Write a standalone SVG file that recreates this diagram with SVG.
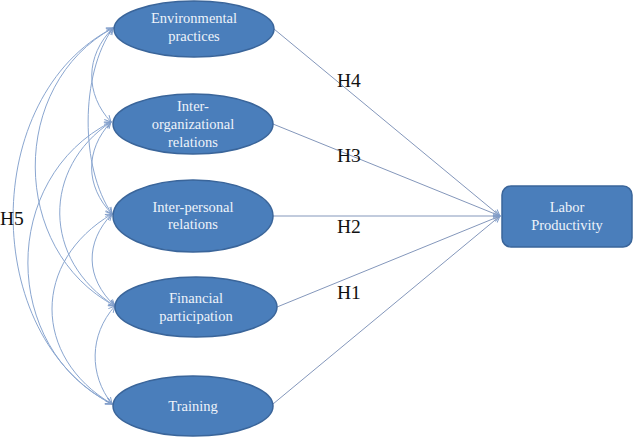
<svg xmlns="http://www.w3.org/2000/svg" width="634" height="437" viewBox="0 0 634 437">
<style>
.node{fill:#4a7ebb;stroke:#3a659a;stroke-width:1.5}
.nt{fill:#eef3fa;font-size:14.5px;text-anchor:middle}
.lab{fill:#111;font-size:19.5px}
.c{fill:none;stroke:#8aa6d0;stroke-width:1}
.s{fill:none;stroke:#8497bb;stroke-width:1}
</style>
<defs>
<marker id="arr" viewBox="0 0 10 10" refX="9" refY="5" markerWidth="8" markerHeight="8" markerUnits="userSpaceOnUse" orient="auto-start-reverse">
<path d="M1,1 L9,5 L1,9" fill="none" stroke="#7f9cc9" stroke-width="1.2"/>
</marker>
</defs>
<rect width="634" height="437" fill="#fff"/>
<g font-family="Liberation Serif, Times New Roman, DejaVu Serif, serif">
<g id="connectors">
<g id="correlations">
<path class="c" d="M113,28 C85,56 85,94 111,122" marker-start="url(#arr)" marker-end="url(#arr)"/>
<path class="c" d="M113,28 C80,74 80,168 112,214" marker-start="url(#arr)" marker-end="url(#arr)"/>
<path class="c" d="M113,28 C9,84 9,250 115,306" marker-start="url(#arr)" marker-end="url(#arr)"/>
<path class="c" d="M113,28 C-20,96 -20,336 112,404" marker-start="url(#arr)" marker-end="url(#arr)"/>
<path class="c" d="M111,122 C85,150 85,186 112,214" marker-start="url(#arr)" marker-end="url(#arr)"/>
<path class="c" d="M111,122 C42,168 42,260 115,306" marker-start="url(#arr)" marker-end="url(#arr)"/>
<path class="c" d="M111,122 C0,178 0,348 112,404" marker-start="url(#arr)" marker-end="url(#arr)"/>
<path class="c" d="M112,214 C85,242 85,278 115,306" marker-start="url(#arr)" marker-end="url(#arr)"/>
<path class="c" d="M112,214 C32,261 32,357 112,404" marker-start="url(#arr)" marker-end="url(#arr)"/>
<path class="c" d="M115,306 C89,335 89,375 112,404" marker-start="url(#arr)" marker-end="url(#arr)"/>
</g>
<g id="paths">
<line class="s" x1="274" y1="29" x2="500" y2="216" marker-end="url(#arr)"/>
<line class="s" x1="273" y1="124" x2="500" y2="216" marker-end="url(#arr)"/>
<line class="s" x1="273" y1="216" x2="500" y2="216" stroke="#7b9fd4" marker-end="url(#arr)"/>
<line class="s" x1="277" y1="307" x2="500" y2="216" marker-end="url(#arr)"/>
<line class="s" x1="273" y1="404" x2="500" y2="216" marker-end="url(#arr)"/>
</g>
<text class="lab" x="337" y="87">H4</text>
<text class="lab" x="337" y="162">H3</text>
<text class="lab" x="337" y="233">H2</text>
<text class="lab" x="337" y="299">H1</text>
<text class="lab" x="0" y="225">H5</text>
</g>
<g id="env">
<ellipse class="node" cx="194" cy="29" rx="80" ry="28"/>
<text class="nt" x="194" y="23">Environmental</text>
<text class="nt" x="194" y="41">practices</text>
</g>
<g id="interorg">
<ellipse class="node" cx="193" cy="124" rx="80" ry="30"/>
<text class="nt" x="193" y="111">Inter-</text>
<text class="nt" x="193" y="129">organizational</text>
<text class="nt" x="193" y="147">relations</text>
</g>
<g id="interpers">
<ellipse class="node" cx="193" cy="216" rx="80" ry="36"/>
<text class="nt" x="193" y="212">Inter-personal</text>
<text class="nt" x="193" y="229">relations</text>
</g>
<g id="financial">
<ellipse class="node" cx="196" cy="307" rx="81" ry="30"/>
<text class="nt" x="196" y="303">Financial</text>
<text class="nt" x="196" y="321">participation</text>
</g>
<g id="training">
<ellipse class="node" cx="193" cy="406" rx="80" ry="30"/>
<text class="nt" x="193" y="411">Training</text>
</g>
<g id="labor">
<rect class="node" x="502" y="186" width="130" height="61" rx="9"/>
<text class="nt" x="567" y="212">Labor</text>
<text class="nt" x="567" y="230">Productivity</text>
</g>
</g>
</svg>
